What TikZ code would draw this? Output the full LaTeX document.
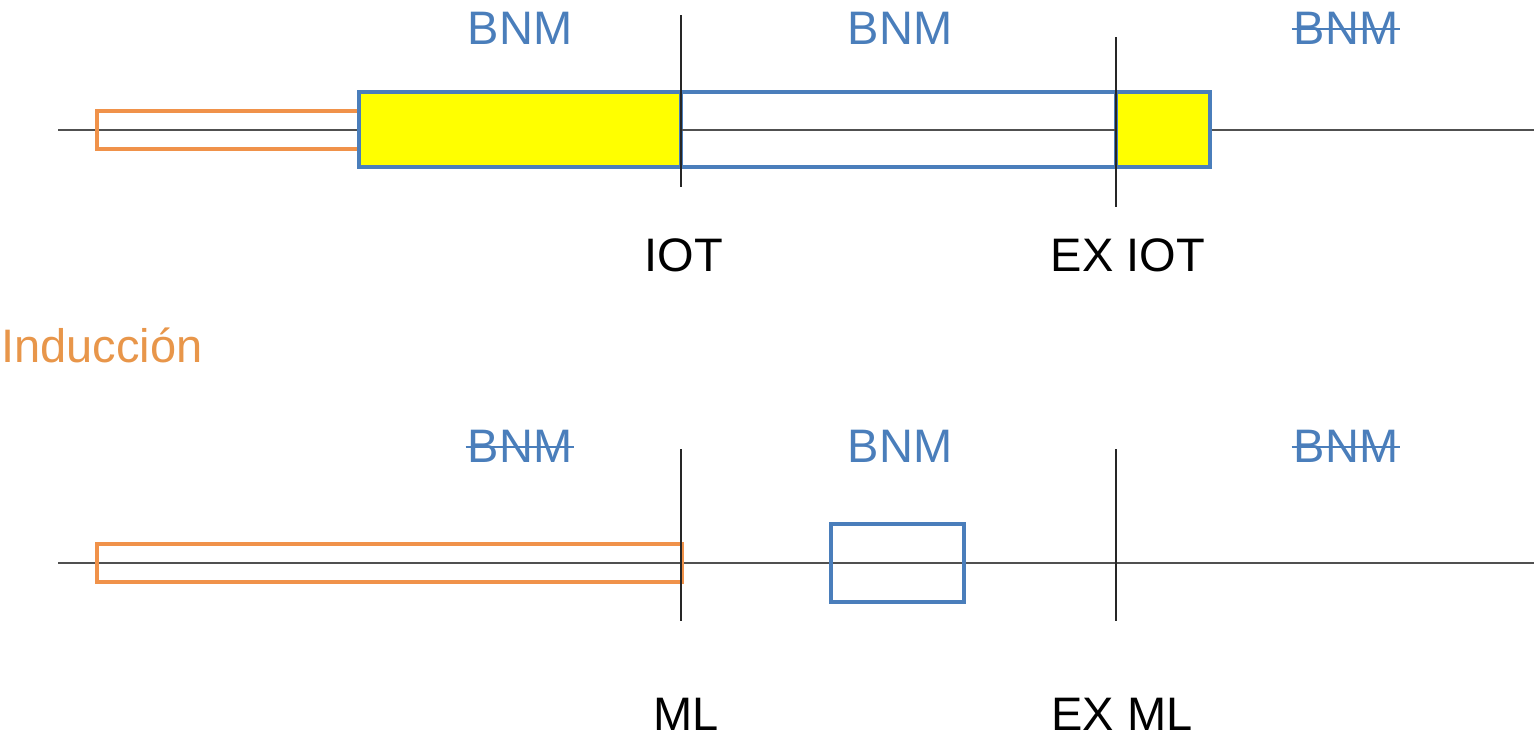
\documentclass[tikz,border=0pt]{standalone}
\usepackage{fontspec}
\setmainfont{Liberation Sans}
\definecolor{bblue}{HTML}{4A7EBB}
\definecolor{borange}{HTML}{F0924A}
\definecolor{tblue}{HTML}{4A7EBB}
\definecolor{torange}{HTML}{E8964A}
\definecolor{axisgray}{HTML}{505050}
\definecolor{fillyellow}{HTML}{FFFF00}
\begin{document}
\begin{tikzpicture}[x=1pt,y=-1pt,
  lbl/.style={font=\fontsize{47}{51}\selectfont, inner sep=0pt, anchor=base},
  bnm/.style={lbl, text=tblue},
  strike/.style={draw=tblue, line width=2.6pt},
  axis/.style={draw=axisgray, line width=2.8pt},
  tick/.style={draw=black!85, line width=2.4pt},
  ind/.style={draw=borange, line width=4.6pt},
  bnmbox/.style={draw=bblue, line width=4.8pt}]
\useasboundingbox (0,0) rectangle (1534,739);
% ---------- top timeline ----------
\draw[axis] (58,130) -- (1534,130);
\draw[ind] (97,111) rectangle (360,149);
\draw[bnmbox, fill=fillyellow] (359,92) rectangle (681,167);
\draw[bnmbox] (681,92) rectangle (1116,167);
\draw[bnmbox, fill=fillyellow] (1116,92) rectangle (1210,167);
\draw[axis] (681,130) -- (1116,130);
\draw[tick] (681,15) -- (681,187);
\draw[tick] (1116,37) -- (1116,207);
\node[bnm] (t1) at (520,44) {BNM};
\node[bnm] (t2) at (900,44) {BNM};
\node[bnm] (t3) at (1346,44) {BNM};
\draw[strike] ([xshift=-2pt,yshift=15pt]t3.base west) -- ([xshift=2pt,yshift=15pt]t3.base east);
\node[lbl] (iot) at (684,271) {IOT};
\node[lbl] (exiot) at (1128,271) {EX IOT};
% ---------- label ----------
\node[lbl, anchor=base west, text=torange] (ind) at (1,362) {Inducción};
% ---------- bottom timeline ----------
\draw[axis] (58,563) -- (1534,563);
\draw[ind] (97,544) rectangle (682,582);
\draw[bnmbox] (831,524) rectangle (964,602);
\draw[tick] (681,449) -- (681,621);
\draw[tick] (1116,449) -- (1116,621);
\node[bnm] (b1) at (520,462) {BNM};
\node[bnm] (b2) at (900,462) {BNM};
\node[bnm] (b3) at (1346,462) {BNM};
\draw[strike] ([xshift=-2pt,yshift=15pt]b1.base west) -- ([xshift=2pt,yshift=15pt]b1.base east);
\draw[strike] ([xshift=-2pt,yshift=15pt]b3.base west) -- ([xshift=2pt,yshift=15pt]b3.base east);
\node[lbl] (ml) at (686,730) {ML};
\node[lbl] (exml) at (1122,730) {EX ML};
\end{tikzpicture}
\end{document}
